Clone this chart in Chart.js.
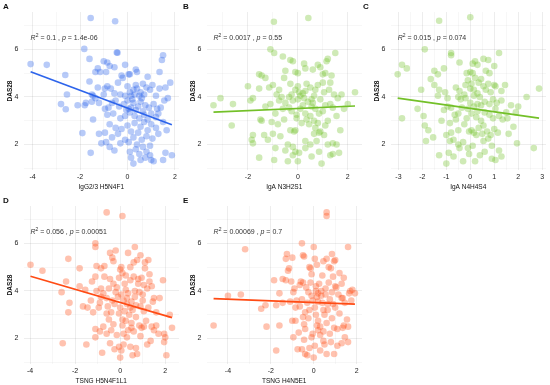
<!DOCTYPE html>
<html>
<head>
<meta charset="utf-8">
<script src="https://cdn.jsdelivr.net/npm/chart.js"></script>
<style>
  body { margin: 0; background: #fff; width: 550px; height: 385px; position: relative; overflow: hidden; font-family: "Liberation Sans", Arial, sans-serif; }
  .panel { position: absolute; width: 183px; height: 194px; }
  .tag { position: absolute; font-weight: bold; font-size: 8px; color: #111; }
</style>
</head>
<body>
<div class="panel" style="left:0;top:0"><canvas id="cA" width="183" height="194"></canvas></div>
<div class="panel" style="left:183px;top:0"><canvas id="cB" width="183" height="194"></canvas></div>
<div class="panel" style="left:367px;top:0"><canvas id="cC" width="183" height="194"></canvas></div>
<div class="panel" style="left:0;top:194px"><canvas id="cD" width="183" height="194"></canvas></div>
<div class="panel" style="left:183px;top:194px"><canvas id="cE" width="183" height="194"></canvas></div>
<div class="tag" style="left:3px;top:2px">A</div>
<div class="tag" style="left:183px;top:2px">B</div>
<div class="tag" style="left:363px;top:2px">C</div>
<div class="tag" style="left:3px;top:196px">D</div>
<div class="tag" style="left:183px;top:196px">E</div>
<script>
// DAS28 vs glycan scores, one [x, y] pair per patient
const pointsA = [
  [-1.55,7.32],[-0.52,7.18],[-1.82,6.02],[-0.45,5.87],[-0.42,5.86],[-1.6,5.6],[1.5,5.75],[1.45,5.55],[-1.0,5.5],[-0.85,5.45],
  [-1.25,5.2],[-1.35,5.05],[-0.75,5.3],[-0.1,5.35],[0.1,4.95],[0.05,4.95],[0.35,5.15],[0.4,5.05],[1.35,5.05],[0.85,4.85],
  [-0.9,5.05],[-0.55,5.25],[-1.15,5.05],[-0.25,4.9],[-4.08,5.38],[-3.4,5.35],[-2.62,4.92],
  [-1.6,4.65],[-1.25,4.4],[-0.85,4.45],[-0.95,4.35],[-0.7,4.35],[-0.4,4.6],[-0.2,4.8],[0.0,4.45],[0.1,4.2],
  [0.25,4.3],[0.35,4.5],[0.4,4.35],[0.55,4.2],[0.65,4.55],[0.8,4.4],[0.95,4.3],[1.05,4.5],[1.2,4.05],[1.35,4.35],
  [1.6,4.4],[1.8,4.6],[-0.55,4.15],[-0.3,4.1],[-0.1,4.05],[0.15,4.05],[0.3,4.1],[0.5,4.05],[0.7,4.1],[-1.0,4.1],
  [-1.5,4.1],[-1.75,3.75],[-1.45,4.05],[-2.55,4.1],[-1.35,3.95],
  [-2.8,3.7],[-2.6,3.48],[-2.1,3.65],[-1.8,3.65],[-1.5,3.8],[-1.2,3.75],[-0.95,3.5],[-0.8,3.55],[-0.65,3.75],[-0.5,3.85],
  [-0.35,3.6],[-0.15,3.7],[0.0,3.85],[0.05,3.5],[0.15,3.55],[0.25,3.75],[0.35,3.45],[0.45,3.6],[0.55,3.8],[0.65,3.4],
  [0.75,3.65],[0.9,3.55],[1.0,3.3],[1.1,3.7],[1.25,3.5],[1.4,3.55],[1.55,3.85],[1.7,3.95],[-0.85,3.25],[-0.6,3.3],
  [-0.3,3.1],[-0.1,3.2],[0.1,3.35],[0.3,3.2],[0.5,3.1],[0.7,3.25],[0.85,3.05],[1.2,3.15],[-1.45,3.05],[1.3,3.3],
  [0.2,3.9],[0.6,3.95],[-0.05,3.45],
  [-0.75,2.85],[-0.5,2.7],[-0.25,2.65],[0.0,2.8],[0.15,2.55],[0.3,2.9],[0.45,2.5],[0.55,2.75],[0.7,2.95],[0.85,2.6],
  [1.0,2.85],[1.2,2.7],[1.5,2.95],[1.65,2.6],[-0.95,2.5],[-0.65,2.3],[-0.4,2.45],[-0.1,2.2],[0.25,2.3],[0.4,2.0],
  [0.6,2.2],[0.8,2.35],[1.05,2.25],[1.3,2.45],[-1.2,2.45],[-1.9,2.48],[-1.1,2.05],[-0.9,2.1],[-0.75,1.9],[-0.3,2.05],
  [0.05,2.1],
  [0.1,1.7],[0.35,1.8],[0.5,1.6],[0.65,1.9],[0.8,1.7],[0.95,1.55],[1.0,1.35],[1.1,1.3],[1.5,1.35],[1.6,1.65],
  [1.87,1.55],[0.25,1.2],[-1.55,1.65],[0.15,1.45],[0.75,1.45],[0.55,1.35],[-0.55,1.75],[0.95,1.95]
];
const pointsB = [
  [-0.96,7.16],[0.42,7.32],[-3.38,3.65],[-3.1,3.95],[-2.6,3.7],[-2.65,2.8],[-2.0,4.45],[-1.9,3.85],[-1.8,3.95],[-1.85,2.2],
  [-1.8,2.05],[-1.55,4.95],[-1.45,4.9],[-1.3,4.8],[-1.5,3.05],[-1.45,3.0],[-1.35,2.4],[-1.2,2.2],[-1.0,2.45],[-1.55,1.45],
  [-1.1,6.0],[-0.95,5.85],[-0.6,5.7],[-0.3,5.55],[-0.2,5.5],[-1.0,4.5],[-1.15,4.4],[-0.75,4.3],[-0.55,4.8],[-1.1,3.7],
  [-0.9,3.3],[-0.75,3.85],[-1.05,2.95],[-0.8,2.85],[-0.6,3.5],[-0.5,3.75],[-0.9,1.85],[-0.5,1.75],[-0.4,1.3],[-0.95,1.35],
  [-0.3,2.6],[-0.15,2.55],[-0.1,2.6],[-0.4,2.0],[-0.2,1.9],[-0.1,1.7],[0.0,1.3],[0.05,1.65],[0.3,2.15],[0.5,2.0],
  [0.55,1.5],[0.65,2.45],[0.7,2.7],[0.85,2.5],[0.9,2.55],[0.95,1.2],[1.1,2.8],[1.2,2.0],[1.3,1.55],[1.4,1.6],
  [1.55,2.0],[1.65,1.65],[1.7,2.6],[-0.1,5.05],[0.0,5.0],[0.25,5.4],[0.3,5.2],[0.6,5.15],[0.8,5.35],[0.9,5.25],
  [1.0,4.95],[1.1,5.0],[1.15,5.5],[1.2,5.6],[1.5,5.85],[1.35,4.9],[1.3,4.6],[1.0,4.6],[0.8,4.5],[0.7,4.3],
  [0.5,4.4],[0.3,4.25],[0.2,4.15],[0.05,4.2],[-0.1,4.3],[-0.25,4.1],[-0.35,4.0],[-0.2,3.85],[0.0,3.9],[0.1,4.05],
  [0.25,3.95],[0.4,3.8],[0.55,3.6],[0.65,4.05],[0.9,3.9],[1.05,4.2],[1.25,4.3],[1.45,4.1],[1.6,3.95],[1.75,4.1],
  [2.0,3.7],[2.29,4.2],[1.85,3.5],[1.55,3.2],[1.4,3.55],[1.2,3.0],[1.0,3.4],[0.85,3.3],[0.7,3.5],[0.5,3.2],
  [0.3,3.3],[0.1,3.5],[-0.05,3.25],[-0.25,3.4],[-0.35,3.55],[0.2,3.65],[0.35,3.05],[0.65,3.0],[0.8,2.9],[0.45,2.85],
  [0.15,2.9],[-0.05,3.1],[1.3,3.7],[1.1,3.65],[0.55,3.9],[-0.55,3.05],[-0.7,2.35],[-0.3,4.55],[0.0,4.45],[-0.5,5.1],
  [-1.3,3.6],[-1.55,4.35],[-1.8,2.4],[-0.2,1.55],[0.3,1.85],[0.75,2.15],[1.05,2.4],[1.4,2.05],[0.85,1.7],[0.6,3.75],
  [0.35,4.55],[-0.65,4.0],[-0.85,4.1]
];
const pointsC = [
  [-1.3,7.2],[0.0,7.35],[-1.9,6.0],[-0.8,5.85],[-0.8,5.75],[1.2,5.85],[-3.03,4.95],[-2.85,5.35],[-2.65,5.2],[-2.05,4.3],
  [-2.2,3.5],[-2.85,3.1],[-1.65,4.75],[-1.5,5.1],[-1.35,4.95],[-1.3,4.3],[-1.35,4.05],[-1.5,4.5],[-1.95,3.2],[-1.9,2.8],
  [-1.85,2.15],[-1.55,2.3],[-1.3,1.55],[-1.0,1.2],[-0.9,1.65],[-0.7,1.5],[-1.1,5.2],[-0.95,3.6],[-1.1,3.45],[-0.8,3.55],
  [-0.85,2.9],[-0.8,2.5],[-0.7,2.2],[-0.85,2.15],[-0.5,2.0],[-0.45,1.85],[-0.3,1.3],[-0.6,3.05],[-0.5,3.3],[-0.4,3.9],
  [-0.5,4.0],[-0.6,4.4],[-0.45,4.25],[-0.45,5.45],[-0.15,5.0],[0.0,5.05],[0.1,5.4],[0.2,5.5],[0.3,5.35],[0.1,5.0],
  [0.2,4.8],[-0.1,4.7],[0.05,4.55],[0.0,4.35],[0.15,4.3],[0.3,4.15],[0.4,4.0],[0.55,4.45],[0.65,4.3],[0.75,4.55],
  [0.85,4.2],[1.0,4.5],[0.95,3.9],[1.1,3.75],[0.8,3.7],[0.6,3.8],[0.45,3.65],[0.3,3.7],[0.15,3.6],[0.0,3.75],
  [-0.1,3.5],[-0.2,3.95],[-0.25,4.1],[0.05,3.3],[0.25,3.15],[0.45,3.0],[0.6,3.35],[0.8,3.25],[0.95,3.1],[1.05,3.5],
  [1.2,3.2],[1.35,3.05],[1.5,3.35],[1.3,3.85],[1.45,4.5],[1.7,3.65],[1.9,3.35],[1.55,3.1],[2.0,3.6],[2.35,4.0],
  [2.87,4.35],[2.65,1.85],[1.95,2.05],[1.6,2.45],[1.3,1.5],[1.2,1.75],[1.05,1.35],[0.9,1.95],[0.75,2.25],[0.55,2.15],
  [0.4,1.55],[0.2,1.3],[0.5,2.45],[0.25,2.4],[0.15,2.5],[0.05,2.6],[-0.05,2.55],[0.35,2.7],[0.55,2.8],[0.7,2.55],
  [0.85,2.4],[1.0,2.65],[1.15,2.5],[-0.3,2.1],[-0.1,1.85],[0.1,1.95],[-0.15,3.1],[0.3,3.4],[-0.35,3.55],[-0.25,2.85],
  [0.65,5.1],[0.55,5.6],[0.75,5.55],[1.0,5.3],[0.35,4.6],[-0.2,4.5],[0.8,5.0],[1.05,4.45],[1.3,4.25],[-1.05,4.2],
  [-0.95,3.95],[-0.65,3.25],[-1.2,3.0],[-1.75,2.6],[0.6,1.7],[0.9,1.4],[-0.05,1.6],[-1.0,2.4],[0.15,4.05],[0.45,4.75],
  [-0.5,2.6],[1.8,2.75]
];
const pointsD = [
  [-0.6,7.3],[0.1,7.15],[-1.1,6.0],[-1.1,5.85],[0.35,5.6],[0.65,5.85],[-0.45,5.6],[-0.35,5.4],[-0.3,5.25],[-0.7,5.05],
  [-0.85,4.95],[-1.05,5.05],[-3.98,5.1],[-3.45,4.85],[-2.3,5.35],[-2.4,4.4],[-2.6,3.95],[-2.25,3.5],[-2.3,3.1],[-2.55,1.8],
  [-1.8,4.95],[-1.8,4.2],[-1.65,3.35],[-1.45,3.3],[-1.5,1.75],[-1.1,2.4],[-1.1,2.05],[-1.2,3.1],[-1.25,4.4],[-1.05,4.0],
  [-0.85,4.1],[-0.75,3.9],[-0.9,3.5],[-0.6,3.7],[-0.45,4.5],[-0.3,4.3],[-0.55,3.35],[-0.4,3.1],[-0.5,2.8],[-0.3,2.6],
  [-0.6,2.2],[-0.75,2.5],[-0.9,2.3],[-0.45,1.8],[-0.05,1.65],[0.05,1.5],[0.0,1.2],[0.1,2.55],[0.15,2.2],[-0.15,2.15],
  [0.0,4.9],[0.1,4.75],[-0.05,4.55],[0.2,4.3],[0.25,4.05],[0.35,3.9],[0.45,4.45],[0.6,4.6],[0.8,4.5],[0.95,4.55],
  [0.75,5.3],[0.9,5.5],[1.1,5.2],[1.25,5.3],[1.1,4.95],[1.3,4.7],[1.2,4.1],[1.0,3.85],[0.85,3.95],[0.65,3.75],
  [0.5,3.55],[0.3,3.45],[0.15,3.6],[-0.1,3.75],[-0.2,3.95],[0.0,3.3],[0.2,3.15],[0.4,3.0],[0.55,3.2],[0.7,2.9],
  [0.9,3.35],[1.05,3.15],[1.25,3.3],[1.45,3.55],[1.5,3.7],[1.75,3.7],[1.9,4.45],[1.4,4.2],[1.6,3.1],[2.2,3.0],
  [2.3,2.45],[2.0,2.05],[1.95,1.85],[1.95,2.2],[2.05,1.3],[1.4,2.5],[1.5,2.35],[1.2,1.75],[1.05,2.5],[0.95,2.45],
  [0.85,2.55],[0.6,2.3],[0.7,1.6],[0.75,1.35],[0.55,1.3],[0.45,1.65],[0.3,2.05],[0.35,2.35],[0.5,2.65],[1.15,2.75],
  [1.6,2.55],[-0.25,3.45],[-0.05,3.05],[0.25,2.75],[0.45,3.3],[0.65,4.0],[1.05,4.25],[-0.15,4.15],[0.05,3.85],[0.3,3.7],
  [-0.7,4.6],[-0.5,4.1],[-0.35,3.6],[-0.95,3.3],[-1.3,3.6],[-1.1,4.6],[-0.2,5.7],[0.05,5.0],[0.45,5.0],[0.6,5.2],
  [0.25,4.65],[0.8,4.3],[1.3,4.4],[1.0,3.6],[0.7,3.4],[0.5,2.45],[0.15,1.75],[-0.25,1.55],[0.9,2.1],[1.35,1.9],
  [1.7,2.2],[-0.4,2.35],[-0.6,3.05],[-0.85,3.75],[-1.55,4.05],[-0.8,1.4],[0.1,2.8]
];
const pointsE = [
  [0.6,7.3],[0.6,7.15],[-4.67,2.55],[-4.0,3.8],[-3.4,3.85],[-3.2,5.75],[-2.45,3.25],[-2.25,3.4],[-2.2,2.5],[-1.85,4.45],
  [-1.75,1.5],[-1.75,3.4],[-1.6,3.9],[-1.6,2.55],[-1.45,3.5],[-1.45,4.5],[-1.3,4.45],[-1.25,5.55],[-1.3,5.35],[-1.2,4.85],
  [-1.15,4.95],[-1.0,5.4],[-1.05,4.4],[-0.95,3.95],[-0.9,4.1],[-0.85,3.3],[-0.85,2.75],[-0.95,2.05],[-0.7,2.25],[-0.75,1.55],
  [-0.55,1.55],[-0.4,1.35],[-0.45,1.95],[-0.55,6.0],[-0.5,5.5],[-0.45,5.45],[-0.6,4.4],[-0.5,4.35],[-0.55,3.65],[-0.65,3.35],
  [-0.4,3.1],[-0.45,2.6],[-0.4,2.4],[-0.25,2.85],[-0.3,1.3],[-0.2,5.0],[-0.15,4.95],[-0.1,4.7],[-0.1,3.8],[-0.05,3.6],
  [-0.05,2.2],[-0.1,2.05],[0.0,5.85],[0.05,5.35],[0.15,5.1],[0.0,1.2],[0.05,1.7],[0.1,4.2],[0.1,4.0],[0.15,3.75],
  [0.2,3.55],[0.05,3.3],[0.1,3.0],[0.2,2.75],[0.3,2.5],[0.15,2.55],[0.2,2.35],[0.25,4.3],[0.35,4.0],[0.35,3.8],
  [0.4,3.5],[0.45,3.2],[0.5,3.0],[0.3,2.15],[0.45,1.9],[0.5,1.75],[0.6,1.35],[0.6,5.35],[0.7,5.0],[0.8,4.95],
  [0.85,5.55],[0.95,5.25],[1.0,5.3],[0.9,4.6],[1.0,4.2],[1.05,4.15],[0.85,3.95],[0.75,3.65],[0.65,3.45],[0.9,3.45],
  [1.0,3.3],[0.95,2.45],[0.75,2.2],[0.8,1.85],[0.95,1.35],[1.2,4.75],[1.3,4.3],[1.3,3.7],[1.35,3.7],[1.45,3.5],
  [1.2,3.05],[1.4,2.55],[1.35,2.45],[1.45,2.05],[1.3,1.8],[1.55,2.8],[1.6,2.5],[1.6,1.85],[1.6,5.85],[1.65,3.9],
  [1.7,4.0],[1.8,4.05],[1.92,3.9],[1.75,3.6],[1.4,4.55],[0.4,4.65],[0.55,4.1],[0.7,4.35],[0.2,3.9],[-0.25,3.95],
  [-0.3,3.5],[-0.2,3.2],[-0.65,4.25],[-0.8,3.6],[-1.1,3.55],[-1.0,2.75],[-0.5,2.9],[0.6,2.65],[0.45,2.3],[1.1,2.4],
  [1.1,1.7],[0.3,1.5],[-0.2,1.6],[0.65,3.2],[0.85,2.85],[-0.15,4.35],[0.45,5.25],[-0.35,4.15],[1.15,3.85],[0.55,3.85]
];

// linear fits (start, end)
const fitA = [[-4.08,5.06],[1.87,2.83]];
const fitB = [[-3.38,3.36],[2.29,3.62]];
const fitC = [[-3.03,3.95],[2.87,3.11]];
const fitD = [[-3.98,4.62],[2.3,2.88]];
const fitE = [[-4.67,3.68],[1.92,3.45]];

const statsA = ['0.1', '1.4e-06'];
const statsB = ['0.0017', '0.55'];
const statsC = ['0.015', '0.074'];
const statsD = ['0.056', '0.00051'];
const statsE = ['0.00069', '0.7'];

const yTicks = [1, 2, 3, 4, 5, 6, 7];
const yLabels = [2, 4, 6];
const xTicksEven = [-4, -3, -2, -1, 0, 1, 2];
const xLabelsEven = [-4, -2, 0, 2];
const xTicksB = [-3, -2, -1, 0, 1, 2];
const xLabelsB = [-2, 0, 2];
const xTicksC = [-3, -2.5, -2, -1.5, -1, -0.5, 0, 0.5, 1, 1.5, 2, 2.5, 3];
const xLabelsC = [-3, -2, -1, 0, 1, 2, 3];

const BLUE = '45,100,235';
const GREEN = '115,192,40';
const ORANGE = '255,75,20';

const statsLabel = {
  id: 'statsLabel',
  afterDatasetsDraw(chart, args, opts) {
    if (!opts.r2) return;
    const ctx = chart.ctx;
    let cx = chart.scales.x.getPixelForValue(opts.x);
    const y = 40;
    const parts = [
      ['italic', 'R', 7, 0], ['normal', '2', 5, -3],
      ['normal', ' = ' + opts.r2 + ' , ', 7, 0],
      ['italic', 'p', 7, 0], ['normal', ' = ' + opts.p, 7, 0]
    ];
    ctx.save();
    ctx.fillStyle = '#333';
    ctx.textBaseline = 'alphabetic';
    parts.forEach(([st, t, sz, dy]) => {
      ctx.font = st + ' ' + sz + 'px "Liberation Sans", Arial, sans-serif';
      ctx.fillText(t, cx, y + dy);
      cx += ctx.measureText(t).width;
    });
    ctx.restore();
  }
};
Chart.register(statsLabel);

function panel(id, pts, fit, stats, xMin, xMax, xTicks, xLabels, title, rgb) {
  const font = { family: '"Liberation Sans", Arial, sans-serif', size: 6.5 };
  const tickFont = { family: '"Liberation Sans", Arial, sans-serif', size: 7 };
  const gridColor = (major) => (ctx) =>
    major.includes(ctx.tick.value) ? 'rgba(0,0,0,0.09)' : 'rgba(0,0,0,0.045)';
  new Chart(document.getElementById(id), {
    type: 'scatter',
    data: {
      datasets: [
        {
          data: fit.map(p => ({ x: p[0], y: p[1] })),
          showLine: true, borderColor: 'rgb(' + rgb + ')', borderWidth: 1.7,
          pointRadius: 0, order: 0
        },
        {
          data: pts.map(p => ({ x: p[0], y: p[1] })),
          backgroundColor: 'rgba(' + rgb + ',0.34)', borderWidth: 0,
          pointRadius: 3.3, order: 1
        }
      ]
    },
    options: {
      responsive: false,
      animation: false,
      layout: { padding: { left: 0, top: 12, right: 4, bottom: 0 } },
      plugins: {
        legend: { display: false },
        tooltip: { enabled: false },
        statsLabel: { x: Math.min(...pts.map(p => p[0])), r2: stats[0], p: stats[1] }
      },
      scales: {
        x: {
          min: xMin, max: xMax,
          afterBuildTicks: s => { s.ticks = xTicks.map(v => ({ value: v })); },
          afterFit: s => { s.height = 24; },
          ticks: { font: tickFont, color: '#222', padding: 3, autoSkip: false, maxRotation: 0,
                   callback: v => xLabels.includes(v) ? String(v) : '' },
          grid: { color: gridColor(xLabels), drawTicks: false, lineWidth: 0.8 },
          border: { display: false },
          title: { display: true, text: title, font, color: '#111', padding: { top: 0, bottom: 3 } }
        },
        y: {
          min: 0.93, max: 7.57,
          afterBuildTicks: s => { s.ticks = yTicks.map(v => ({ value: v })); },
          afterFit: s => { s.width = 23.5; },
          ticks: { font: tickFont, color: '#222', padding: 5, autoSkip: false,
                   callback: v => yLabels.includes(v) ? String(v) : '' },
          grid: { color: gridColor(yLabels), drawTicks: false, lineWidth: 0.8 },
          border: { display: false },
          title: { display: true, text: 'DAS28', font: { ...font, weight: 'bold' }, color: '#111', padding: { top: 6, bottom: 0 } }
        }
      }
    }
  });
}

panel('cA', pointsA, fitA, statsA, -4.38, 2.17, xTicksEven, xLabelsEven, 'IgG2/3 H5N4F1', BLUE);
panel('cB', pointsB, fitB, statsB, -3.66, 2.57, xTicksB, xLabelsB, 'IgA N3H2S1', GREEN);
panel('cC', pointsC, fitC, statsC, -3.33, 3.16, xTicksC, xLabelsC, 'IgA N4H4S4', GREEN);
panel('cD', pointsD, fitD, statsD, -4.29, 2.61, xTicksEven, xLabelsEven, 'TSNG H5N4F1L1', ORANGE);
panel('cE', pointsE, fitE, statsE, -5.0, 2.25, xTicksEven, xLabelsEven, 'TSNG H4N5E1', ORANGE);
</script>
</body>
</html>
